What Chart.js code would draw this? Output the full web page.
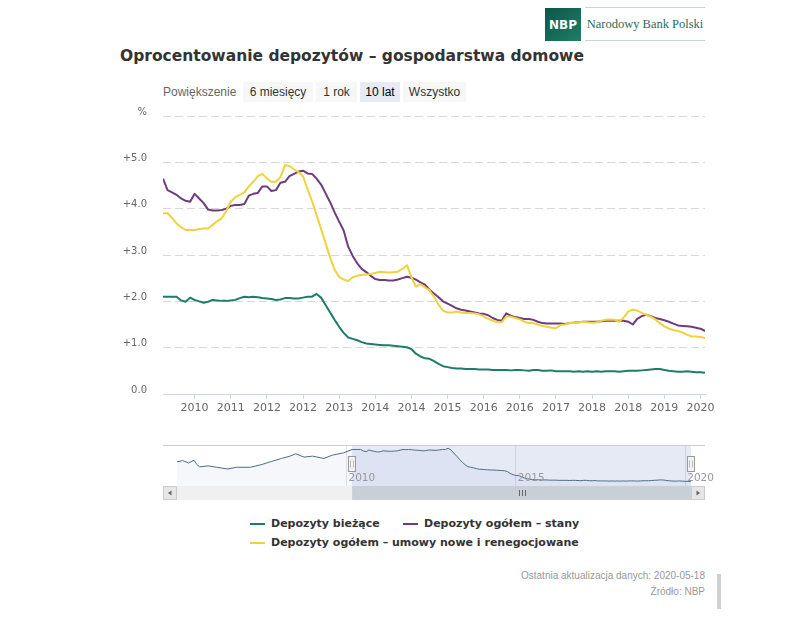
<!DOCTYPE html>
<html lang="pl">
<head>
<meta charset="utf-8">
<title>Oprocentowanie depozytów – gospodarstwa domowe</title>
<script src="https://cdn.jsdelivr.net/npm/chart.js@4.4.1/dist/chart.umd.min.js"></script>
<style>
  html, body { margin: 0; padding: 0; background: #fff; }
  body { width: 805px; height: 630px; position: relative; overflow: hidden; font-family: "Liberation Sans", Arial, sans-serif; }
  .abs { position: absolute; }
  #logoBox { left: 545px; top: 8px; width: 36px; height: 33px; background: linear-gradient(135deg, #0d5646, #1f7e69); color: #fff; font: bold 12px "DejaVu Sans", sans-serif; display: flex; align-items: center; justify-content: center; }
  #logoName { left: 585px; top: 7px; width: 120px; height: 32px; border-top: 1px solid #c9d8d2; border-bottom: 1px solid #c9d8d2; font: 12.5px "Liberation Serif", serif; color: #2a6b5a; line-height: 32px; text-align: center; }
  #title { left: 120px; top: 47px; font: bold 15.5px "DejaVu Sans", sans-serif; color: #333; white-space: nowrap; }
  #zoomLabel { left: 163px; top: 85px; font-size: 12px; color: #666; }
  .btn { top: 82px; height: 20px; line-height: 20px; background: #f7f7f7; font-size: 12px; color: #333; text-align: center; }
  .btn.sel { background: #e6ebf5; color: #000; }
  #main { left: 100px; top: 100px; width: 620px; height: 330px; }
  #nav { left: 100px; top: 440px; width: 620px; height: 65px; }
  #legend { left: 250px; top: 514px; font: bold 11px "DejaVu Sans", sans-serif; color: #333; }
  .row { display: flex; align-items: center; height: 19px; }
  .item { display: flex; align-items: center; white-space: nowrap; }
  .swatch { width: 15px; height: 2px; margin-right: 6px; }
  .foot { right: 100px; font-size: 10px; color: #999; white-space: nowrap; }
  #bar { left: 717px; top: 574px; width: 4px; height: 35px; background: #d0d0d0; }
</style>
</head>
<body>
<div id="logoBox" class="abs">NBP</div>
<div id="logoName" class="abs">Narodowy Bank Polski</div>
<div id="title" class="abs">Oprocentowanie depozytów – gospodarstwa domowe</div>
<div id="zoomLabel" class="abs">Powiększenie</div>
<div class="abs btn" style="left:243px;width:70px;">6 miesięcy</div>
<div class="abs btn" style="left:316px;width:41px;">1 rok</div>
<div class="abs btn sel" style="left:360px;width:40px;">10 lat</div>
<div class="abs btn" style="left:403px;width:63px;">Wszystko</div>
<div id="main" class="abs"><canvas id="mainChart"></canvas></div>
<div id="nav" class="abs"><canvas id="navChart"></canvas></div>
<div id="legend" class="abs"></div>
<div class="abs foot" style="top:570px;">Ostatnia aktualizacja danych: 2020-05-18</div>
<div class="abs foot" style="top:586px;">Źródło: NBP</div>
<div id="bar" class="abs"></div>
<script>
// months shown in the main chart: 2010-03 .. 2020-03
const months = Array.from({ length: 121 }, (_, i) => {
  const t = 2010 * 12 + 2 + i;
  return Math.floor(t / 12) + '-' + String(t % 12 + 1).padStart(2, '0');
});

const biezace = [
  2.10, 2.10, 2.10, 2.10, 2.02, 1.99, 2.08, 2.03, 2.00, 1.97,
  1.99, 2.03, 2.02, 2.01, 2.01, 2.02, 2.03, 2.07, 2.10, 2.09,
  2.10, 2.09, 2.07, 2.06, 2.05, 2.03, 2.04, 2.07, 2.07, 2.06,
  2.06, 2.08, 2.10, 2.10, 2.16, 2.08, 1.92, 1.76, 1.60, 1.45,
  1.32, 1.22, 1.19, 1.16, 1.12, 1.09, 1.08, 1.07, 1.06, 1.05,
  1.05, 1.04, 1.03, 1.02, 1.01, 0.97, 0.87, 0.81, 0.77, 0.76,
  0.71, 0.65, 0.60, 0.58, 0.56, 0.55, 0.55, 0.54, 0.54, 0.54,
  0.53, 0.53, 0.53, 0.52, 0.52, 0.52, 0.52, 0.51, 0.52, 0.52,
  0.51, 0.50, 0.52, 0.52, 0.50, 0.50, 0.51, 0.49, 0.49, 0.49,
  0.49, 0.48, 0.49, 0.48, 0.49, 0.48, 0.49, 0.48, 0.49, 0.49,
  0.49, 0.48, 0.49, 0.50, 0.50, 0.50, 0.51, 0.52, 0.53, 0.54,
  0.54, 0.52, 0.50, 0.49, 0.48, 0.48, 0.49, 0.48, 0.47, 0.47,
  0.46
];

const ogolemStany = [
  4.65, 4.40, 4.35, 4.30, 4.22, 4.17, 4.15, 4.32, 4.22, 4.12,
  3.98, 3.96, 3.96, 3.97, 4.00, 4.06, 4.08, 4.08, 4.10, 4.28,
  4.32, 4.34, 4.48, 4.48, 4.38, 4.40, 4.56, 4.58, 4.70, 4.75,
  4.80, 4.82, 4.76, 4.75, 4.65, 4.52, 4.33, 4.14, 3.92, 3.72,
  3.53, 3.18, 2.98, 2.82, 2.70, 2.63, 2.55, 2.48, 2.46, 2.46,
  2.45, 2.45, 2.47, 2.50, 2.53, 2.51, 2.47, 2.41, 2.36, 2.25,
  2.17, 2.09, 2.00, 1.95, 1.90, 1.85, 1.82, 1.80, 1.78, 1.76,
  1.74, 1.73, 1.70, 1.64, 1.60, 1.58, 1.74, 1.69, 1.66, 1.64,
  1.62, 1.62, 1.60, 1.56, 1.53, 1.52, 1.52, 1.52, 1.52, 1.51,
  1.53, 1.54, 1.55, 1.56, 1.56, 1.56, 1.56, 1.57, 1.58, 1.58,
  1.58, 1.58, 1.58, 1.56, 1.50, 1.62, 1.68, 1.71, 1.68, 1.64,
  1.62, 1.59, 1.56, 1.52, 1.48, 1.47, 1.46, 1.45, 1.43, 1.41,
  1.36
];

const ogolemNowe = [
  3.90, 3.90, 3.80, 3.68, 3.60, 3.54, 3.54, 3.54, 3.56, 3.57,
  3.57, 3.65, 3.73, 3.79, 3.95, 4.15, 4.25, 4.30, 4.35, 4.48,
  4.58, 4.70, 4.75, 4.65, 4.58, 4.58, 4.68, 4.94, 4.92, 4.85,
  4.79, 4.70, 4.42, 4.16, 3.86, 3.56, 3.25, 2.95, 2.68, 2.53,
  2.47, 2.44, 2.52, 2.55, 2.57, 2.58, 2.59, 2.61, 2.64, 2.63,
  2.62, 2.63, 2.64, 2.70, 2.78, 2.52, 2.32, 2.37, 2.30, 2.24,
  2.10, 1.93, 1.80, 1.76, 1.76, 1.78, 1.76, 1.75, 1.75, 1.74,
  1.72, 1.67, 1.62, 1.58, 1.55, 1.55, 1.67, 1.67, 1.64, 1.61,
  1.56, 1.53, 1.53, 1.50, 1.47, 1.45, 1.43, 1.42, 1.49, 1.50,
  1.53, 1.53, 1.55, 1.56, 1.55, 1.54, 1.55, 1.58, 1.60, 1.61,
  1.60, 1.56, 1.65, 1.78, 1.82, 1.80, 1.75, 1.71, 1.67, 1.61,
  1.53, 1.46, 1.41, 1.38, 1.36, 1.33, 1.28, 1.24, 1.24, 1.23,
  1.21
];

// navigator: earlier part of "Depozyty bieżące" (before the zoomed range)
const navEarlyMonths = ['2005-01', '2005-03', '2005-05', '2005-07', '2005-08', '2005-09', '2005-12',
  '2006-03', '2006-07', '2006-10', '2007-03', '2007-07', '2007-10', '2008-02', '2008-05',
  '2008-07', '2008-10', '2009-01', '2009-05', '2009-08', '2009-12'];
const navEarlyValues = [1.47, 1.53, 1.41, 1.55, 1.33, 1.21, 1.26, 1.19, 1.10, 1.19, 1.19,
  1.33, 1.47, 1.64, 1.76, 1.88, 1.71, 1.76, 1.64, 1.81, 1.93];

const xTickMonths = ['2010-10', '2011-06', '2012-02', '2012-10', '2013-06', '2014-02', '2014-10',
  '2015-06', '2016-02', '2016-10', '2017-06', '2018-02', '2018-10', '2019-06', '2020-02'];
const yTicks = [0, 1, 2, 3, 4, 5, 6];
const navTickMonths = ['2010-01', '2015-01', '2020-01'];
const navRange = ['2004-08', '2020-08'];
const selectedRange = ['2010-03', '2020-03'];

const seriesNames = ['Depozyty bieżące', 'Depozyty ogółem – stany', 'Depozyty ogółem – umowy nowe i renegocjowane'];
const seriesColors = ['#1e7d69', '#6e3c7d', '#efd23c'];

// months counted from 2010-02
function monthIndex(s) {
  const [y, m] = s.split('-').map(Number);
  return y * 12 + (m - 1) - (2010 * 12 + 1);
}
function yearOf(v) {
  return String(Math.floor((v + 2010 * 12 + 1) / 12));
}
function points(values) {
  return values.map((v, i) => ({ x: monthIndex(months[i]), y: v }));
}

const mainChart = new Chart(document.getElementById('mainChart'), {
  type: 'line',
  data: {
    datasets: [biezace, ogolemStany, ogolemNowe].map((vals, i) => ({
      label: seriesNames[i],
      data: points(vals),
      borderColor: seriesColors[i],
      backgroundColor: seriesColors[i],
      borderWidth: 2,
      pointRadius: 0,
      tension: 0,
      borderJoinStyle: 'round',
      order: 3 - i
    }))
  },
  options: {
    responsive: true,
    maintainAspectRatio: false,
    animation: false,
    layout: { padding: { top: 16, right: 15, bottom: 0, left: 0 } },
    plugins: { legend: { display: false }, tooltip: { enabled: false } },
    scales: {
      x: {
        type: 'linear',
        min: monthIndex(selectedRange[0]),
        max: monthIndex(selectedRange[1]),
        afterBuildTicks: s => { s.ticks = xTickMonths.map(m => ({ value: monthIndex(m) })); },
        afterFit: s => { s.height = 36; },
        ticks: {
          autoSkip: false, maxRotation: 0, padding: 3, color: '#666',
          font: { family: 'DejaVu Sans', size: 11 },
          callback: v => yearOf(v)
        },
        grid: { drawOnChartArea: false, drawTicks: true, tickLength: 5, tickColor: '#ccd6eb' },
        border: { display: true, color: '#ccd6eb' }
      },
      y: {
        min: 0,
        max: 6,
        afterBuildTicks: s => { s.ticks = yTicks.map(v => ({ value: v })); },
        afterFit: s => { s.width = 63; s.paddingTop = 0; s.paddingBottom = 0; },
        ticks: {
          padding: 16, color: '#666',
          font: { family: 'DejaVu Sans', size: 10, lineHeight: 0.8 },
          callback: v => [v === 6 ? '%' : (v === 0 ? '0.0' : '+' + v.toFixed(1)), '']
        },
        grid: { color: '#d8d8d8', drawTicks: false },
        border: { display: false, dash: [8, 4] }
      }
    }
  }
});

// legend from the datasets
const legendRows = [[0, 1], [2]];
const legendEl = document.getElementById('legend');
legendRows.forEach(row => {
  const r = document.createElement('div');
  r.className = 'row';
  row.forEach((idx, k) => {
    const ds = mainChart.data.datasets[idx];
    const it = document.createElement('div');
    it.className = 'item';
    if (k === 0 && row.length > 1) it.style.width = '153px';
    it.innerHTML = '<span class="swatch" style="background:' + ds.borderColor + '"></span>' + ds.label;
    r.appendChild(it);
  });
  legendEl.appendChild(r);
});

// navigator decorations: mask, outline, labels, handles, scrollbar
const navDecor = {
  id: 'navDecor',
  beforeDatasetsDraw(chart) {
    const { ctx, chartArea: a, scales: { x } } = chart;
    const x0 = x.getPixelForValue(monthIndex(selectedRange[0]));
    const x1 = x.getPixelForValue(monthIndex(selectedRange[1]));
    ctx.save();
    ctx.fillStyle = 'rgba(102,133,194,0.17)';
    ctx.fillRect(x0, a.top, x1 - x0, a.bottom - a.top);
    ctx.restore();
  },
  afterDraw(chart) {
    const { ctx, chartArea: a, scales: { x } } = chart;
    const x0 = x.getPixelForValue(monthIndex(selectedRange[0]));
    const x1 = x.getPixelForValue(monthIndex(selectedRange[1]));
    ctx.save();
    // outline
    ctx.strokeStyle = '#cccccc';
    ctx.lineWidth = 1;
    ctx.beginPath();
    ctx.moveTo(a.left, a.top + 0.5);
    ctx.lineTo(a.right, a.top + 0.5);
    ctx.stroke();
    // labels
    ctx.fillStyle = '#999';
    ctx.font = '10.5px "DejaVu Sans"';
    ctx.textBaseline = 'middle';
    ctx.textAlign = 'left';
    x.ticks.forEach(t => {
      ctx.fillText(yearOf(t.value), x.getPixelForValue(t.value) + 2, a.bottom - 8);
    });
    // scrollbar
    const sy = a.bottom, sh = 14;
    ctx.fillStyle = '#f0f0f0';
    ctx.fillRect(a.left, sy, a.right - a.left, sh);
    ctx.fillStyle = '#c9cfd6';
    ctx.fillRect(x0, sy, x1 - x0, sh);
    ctx.strokeStyle = '#666';
    const cx = Math.round((x0 + x1) / 2) + 0.5;
    [-3, 0, 3].forEach(d => {
      ctx.beginPath();
      ctx.moveTo(cx + d, sy + 4);
      ctx.lineTo(cx + d, sy + 10);
      ctx.stroke();
    });
    [[a.left, -1], [a.right - 14, 1]].forEach(([bx, dir]) => {
      ctx.fillStyle = '#e6e6e6';
      ctx.fillRect(bx, sy, 14, sh);
      ctx.strokeStyle = '#cccccc';
      ctx.strokeRect(bx + 0.5, sy + 0.5, 13, sh - 1);
      ctx.fillStyle = '#666';
      ctx.beginPath();
      const mx = bx + 7, my = sy + 7;
      ctx.moveTo(mx + 2 * dir, my);
      ctx.lineTo(mx - 1.5 * dir, my - 2.5);
      ctx.lineTo(mx - 1.5 * dir, my + 2.5);
      ctx.closePath();
      ctx.fill();
    });
    // handles
    [x0, x1].forEach(px => {
      const hx = Math.round(px) - 3.5, hy = a.top + 11.5;
      ctx.fillStyle = '#f2f2f2';
      ctx.fillRect(hx, hy, 7, 15);
      ctx.strokeStyle = '#999';
      ctx.strokeRect(hx, hy, 7, 15);
      ctx.strokeStyle = '#bbb';
      [2, 5].forEach(d => {
        ctx.beginPath();
        ctx.moveTo(hx + d, hy + 4);
        ctx.lineTo(hx + d, hy + 11);
        ctx.stroke();
      });
    });
    ctx.restore();
  }
};

const navPoints = navEarlyMonths.map((m, i) => ({ x: monthIndex(m), y: navEarlyValues[i] }))
  .concat(points(biezace));

new Chart(document.getElementById('navChart'), {
  type: 'line',
  data: {
    datasets: [{
      data: navPoints,
      borderColor: '#4f6d82',
      backgroundColor: 'rgba(51,92,173,0.05)',
      borderWidth: 1,
      pointRadius: 0,
      fill: 'start'
    }]
  },
  options: {
    responsive: true,
    maintainAspectRatio: false,
    animation: false,
    layout: { padding: { top: 5, right: 15, bottom: 19, left: 63 } },
    plugins: { legend: { display: false }, tooltip: { enabled: false } },
    scales: {
      x: {
        type: 'linear',
        min: monthIndex(navRange[0]),
        max: monthIndex(navRange[1]),
        afterBuildTicks: s => { s.ticks = navTickMonths.map(m => ({ value: monthIndex(m) })); },
        afterFit: s => { s.height = 0; },
        ticks: { display: false },
        grid: { color: '#e6e6e6', drawTicks: false },
        border: { display: false }
      },
      y: { display: false, min: 0.23, max: 2.33 }
    }
  },
  plugins: [navDecor]
});
</script>
</body>
</html>
